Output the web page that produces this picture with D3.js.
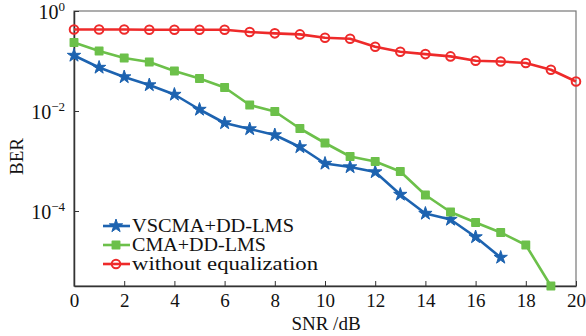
<!DOCTYPE html>
<html>
<head>
<meta charset="utf-8">
<script src="https://cdn.jsdelivr.net/npm/d3@7"></script>
<style>
  body { margin: 0; background: #fff; }
  svg text { font-family: "Liberation Serif", "DejaVu Serif", serif; fill: #111; }
</style>
</head>
<body>
<div id="chart"></div>
<script>
// SNR values (dB)
const snr = d3.range(0, 21);
// BER, as log10 values
const vscmaLog = [-0.89, -1.13, -1.32, -1.48, -1.67, -1.97, -2.24, -2.36, -2.48, -2.72, -3.05, -3.12, -3.22, -3.67, -4.05, -4.17, -4.52, -4.93];
const cmaLog = [-0.63, -0.80, -0.94, -1.02, -1.20, -1.35, -1.53, -1.88, -2.01, -2.35, -2.64, -2.91, -3.01, -3.21, -3.68, -4.02, -4.23, -4.43, -4.68, -5.5];
const noEqLog = [-0.37, -0.37, -0.37, -0.375, -0.375, -0.375, -0.375, -0.42, -0.447, -0.468, -0.535, -0.555, -0.715, -0.815, -0.862, -0.908, -0.995, -1.01, -1.04, -1.175, -1.41];
const xTicks = [0, 2, 4, 6, 8, 10, 12, 14, 16, 18, 20];
const yTicks = [0, -2, -4];

const series = [
  { name: "VSCMA+DD-LMS", color: "#1d63b0", marker: "star", values: vscmaLog },
  { name: "CMA+DD-LMS", color: "#6cc04a", marker: "square", values: cmaLog },
  { name: "without equalization", color: "#ee2a2a", marker: "circle", values: noEqLog }
];
// legend label widths as in the figure
const legendWidths = [162, 134, 186];

const W = 586, H = 336;
const margin = { left: 74, right: 10, top: 11, bottom: 50 };
const width = W - margin.left - margin.right;
const height = H - margin.top - margin.bottom;

const svg = d3.select("#chart").append("svg")
  .attr("width", W).attr("height", H);
const g = svg.append("g")
  .attr("transform", "translate(" + margin.left + "," + margin.top + ")");

const x = d3.scaleLinear().domain([0, 20]).range([0, width]);
const y = d3.scaleLog().domain([Math.pow(10, -5.5), 1]).range([height, 0]);

// frame
g.append("rect")
  .attr("width", width).attr("height", height)
  .attr("fill", "none").attr("stroke", "#777").attr("stroke-width", 1.2);

// x axis
const xAxis = g.append("g")
  .attr("transform", "translate(0," + height + ")")
  .call(d3.axisBottom(x).tickValues(xTicks).tickSizeInner(-5).tickSizeOuter(0).tickPadding(8));
xAxis.select(".domain").attr("stroke", "#333").attr("stroke-width", 1.5);
xAxis.selectAll(".tick line").attr("stroke", "#333");
xAxis.selectAll("text").attr("font-size", 19);

// y axis
const yAxis = g.append("g")
  .call(d3.axisLeft(y).tickValues(yTicks.map(d => Math.pow(10, d))).tickSizeInner(-5).tickSizeOuter(0).tickFormat(""));
yAxis.select(".domain").attr("stroke", "#333").attr("stroke-width", 1.5);
yAxis.selectAll(".tick line").attr("stroke", "#333");
yAxis.selectAll(".tick").each(function (d) {
  const p = Math.round(Math.log10(d));
  const t = d3.select(this).append("text")
    .attr("x", -9).attr("dy", "0.35em")
    .attr("text-anchor", "end").attr("font-size", 20);
  t.append("tspan").text("10");
  t.append("tspan").attr("dy", "-0.55em").attr("font-size", 13)
    .text(p === 0 ? "0" : "\u2212" + (-p));
});

// axis labels
g.append("text")
  .attr("x", width / 2 + 1).attr("y", height + 44)
  .attr("text-anchor", "middle").attr("font-size", 19)
  .text("SNR /dB");
g.append("text")
  .attr("transform", "translate(" + (-51) + "," + (height / 2 + 8) + ") rotate(-90)")
  .attr("text-anchor", "middle").attr("font-size", 19)
  .text("BER");

const star = d3.symbol().type(d3.symbolStar).size(55);
const square = d3.symbol().type(d3.symbolSquare).size(55);

function drawMarker(sel, s) {
  if (s.marker === "star") {
    sel.append("path").attr("d", star).attr("fill", s.color).attr("stroke", s.color).attr("stroke-width", 1);
  } else if (s.marker === "square") {
    sel.append("path").attr("d", square).attr("fill", s.color).attr("stroke", s.color)
      .attr("stroke-width", 1.5).attr("stroke-linejoin", "round");
  } else {
    sel.append("circle").attr("r", 4.3).attr("fill", "none").attr("stroke", s.color).attr("stroke-width", 2);
  }
}

const line = d3.line()
  .x((d, i) => x(snr[i]))
  .y(d => y(Math.pow(10, d)));

series.forEach(s => {
  g.append("path")
    .datum(s.values)
    .attr("fill", "none").attr("stroke", s.color)
    .attr("stroke-width", 2.6).attr("stroke-linejoin", "round")
    .attr("d", line);
  g.selectAll(null)
    .data(s.values)
    .enter().append("g")
    .attr("transform", (d, i) => "translate(" + x(snr[i]) + "," + y(Math.pow(10, d)) + ")")
    .each(function () { drawMarker(d3.select(this), s); });
});

// legend
const legend = g.append("g").attr("transform", "translate(" + (103 - margin.left) + "," + (226 - margin.top) + ")");
series.forEach((s, i) => {
  const row = legend.append("g").attr("transform", "translate(0," + (i * 19) + ")");
  row.append("line").attr("x1", 0).attr("x2", 27)
    .attr("stroke", s.color).attr("stroke-width", 2.6);
  drawMarker(row.append("g").attr("transform", "translate(13,0)"), s);
  row.append("text").attr("x", 29).attr("y", 6)
    .attr("font-size", 19)
    .attr("textLength", legendWidths[i]).attr("lengthAdjust", "spacingAndGlyphs")
    .text(s.name);
});
</script>
</body>
</html>
